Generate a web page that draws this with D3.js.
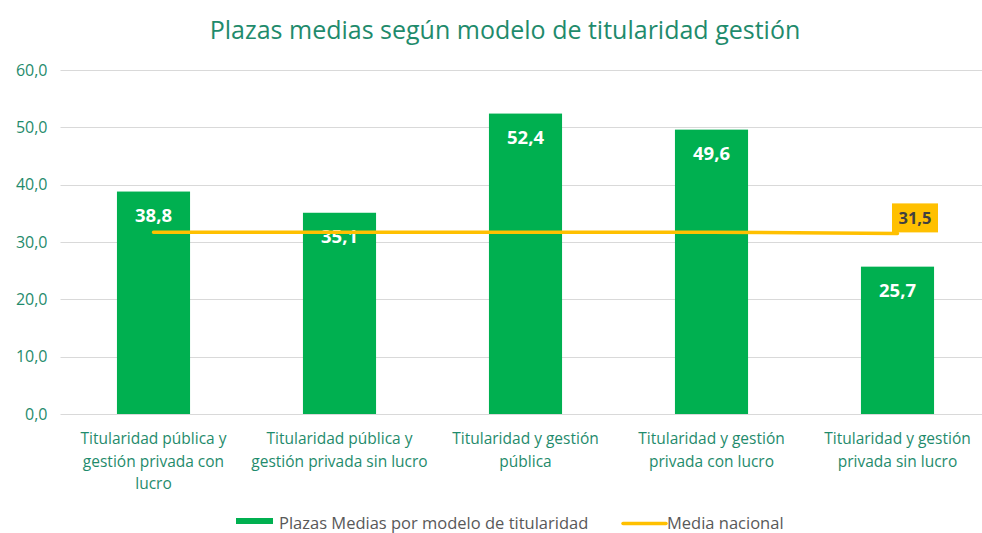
<!DOCTYPE html>
<html>
<head>
<meta charset="utf-8">
<script src="https://cdn.jsdelivr.net/npm/d3@7"></script>
<style>
  html, body { margin: 0; padding: 0; background: #ffffff; }
  svg { display: block; font-family: "Open Sans", "Noto Sans", sans-serif; }
</style>
</head>
<body>
<svg id="chart" width="982" height="533"></svg>
<script>
const title = "Plazas medias según modelo de titularidad gestión";
const categories = [
  ["Titularidad pública y", "gestión privada con", "lucro"],
  ["Titularidad pública y", "gestión privada sin lucro"],
  ["Titularidad y gestión", "pública"],
  ["Titularidad y gestión", "privada con lucro"],
  ["Titularidad y gestión", "privada sin lucro"]
];
const plazasMedias = [38.8, 35.1, 52.4, 49.6, 25.7];
const mediaNacional = [31.7, 31.7, 31.7, 31.7, 31.5];
const yTicks = [0, 10, 20, 30, 40, 50, 60];
const seriesNames = ["Plazas Medias por modelo de titularidad", "Media nacional"];

const fmt = v => d3.format(".1f")(v).replace(".", ",");
const teal = "#1F8B6C";
const green = "#00B050";
const yellow = "#FFC000";

const svg = d3.select("#chart");
const plot = { left: 60.5, right: 990.5, top: 70, bottom: 414 };

const x = d3.scaleBand()
  .domain(d3.range(categories.length))
  .range([plot.left, plot.right])
  .paddingInner(0.607)
  .paddingOuter(0.3035);

const y = d3.scaleLinear().domain([0, 60]).range([plot.bottom, plot.top]);

// title
svg.append("text")
  .attr("x", 505).attr("y", 39)
  .attr("text-anchor", "middle")
  .attr("font-size", 25)
  .attr("fill", teal)
  .text(title);

// gridlines
svg.append("g").selectAll("line").data(yTicks).join("line")
  .attr("x1", plot.left).attr("x2", plot.right)
  .attr("y1", d => Math.round(y(d)) + 0.5).attr("y2", d => Math.round(y(d)) + 0.5)
  .attr("stroke", "#D9D9D9").attr("stroke-width", 1);

// y axis labels
const yAxis = d3.axisLeft(y).tickValues(yTicks).tickFormat(fmt).tickSize(0).tickPadding(0);
const gy = svg.append("g").attr("transform", `translate(${plot.left - 13},0)`).call(yAxis);
gy.select(".domain").remove();
gy.selectAll("text").attr("font-size", 16).attr("fill", teal)
  .attr("font-family", "'Open Sans', sans-serif");

// bars
svg.append("g").selectAll("rect").data(plazasMedias).join("rect")
  .attr("x", (d, i) => x(i))
  .attr("width", x.bandwidth())
  .attr("y", d => y(d))
  .attr("height", d => y(0) - y(d))
  .attr("fill", green);

// bar labels
svg.append("g").selectAll("text").data(plazasMedias).join("text")
  .attr("x", (d, i) => x(i) + x.bandwidth() / 2)
  .attr("y", d => y(d) + 30)
  .attr("text-anchor", "middle")
  .attr("font-size", 18.5)
  .attr("font-weight", "bold")
  .attr("fill", "#ffffff")
  .text(fmt);

// media nacional line
const line = d3.line()
  .x((d, i) => x(i) + x.bandwidth() / 2)
  .y(d => y(d));
svg.append("path")
  .datum(mediaNacional)
  .attr("d", line)
  .attr("fill", "none")
  .attr("stroke", yellow)
  .attr("stroke-width", 3.5)
  .attr("stroke-linecap", "round");

// label for the last line point
const li = mediaNacional.length - 1;
const lx = x(li) + x.bandwidth() / 2, ly = y(mediaNacional[li]);
svg.append("rect")
  .attr("x", lx - 5.5).attr("y", ly - 30)
  .attr("width", 46).attr("height", 29)
  .attr("fill", yellow);
svg.append("text")
  .attr("x", lx - 5.5 + 23).attr("y", ly - 9.5)
  .attr("text-anchor", "middle")
  .attr("font-size", 16.5)
  .attr("font-weight", "bold")
  .attr("fill", "#404040")
  .text(fmt(mediaNacional[li]));

// category labels
const cat = svg.append("g").selectAll("text").data(categories).join("text")
  .attr("text-anchor", "middle")
  .attr("font-size", 15.5)
  .attr("fill", teal);
cat.each(function(lines, i) {
  d3.select(this).selectAll("tspan").data(lines).join("tspan")
    .attr("x", x(i) + x.bandwidth() / 2)
    .attr("y", (d, j) => 444 + j * 22.5)
    .text(d => d);
});

// legend
const lg = svg.append("g");
lg.append("rect").attr("x", 236).attr("y", 518).attr("width", 37).attr("height", 6).attr("fill", green);
lg.append("text").attr("x", 279).attr("y", 529).attr("font-size", 16.5).attr("fill", "#595959").text(seriesNames[0]);
lg.append("line").attr("x1", 623).attr("x2", 666).attr("y1", 523.5).attr("y2", 523.5)
  .attr("stroke", yellow).attr("stroke-width", 3.5).attr("stroke-linecap", "round");
lg.append("text").attr("x", 667).attr("y", 529).attr("font-size", 16.5).attr("fill", "#595959").text(seriesNames[1]);
</script>
</body>
</html>
